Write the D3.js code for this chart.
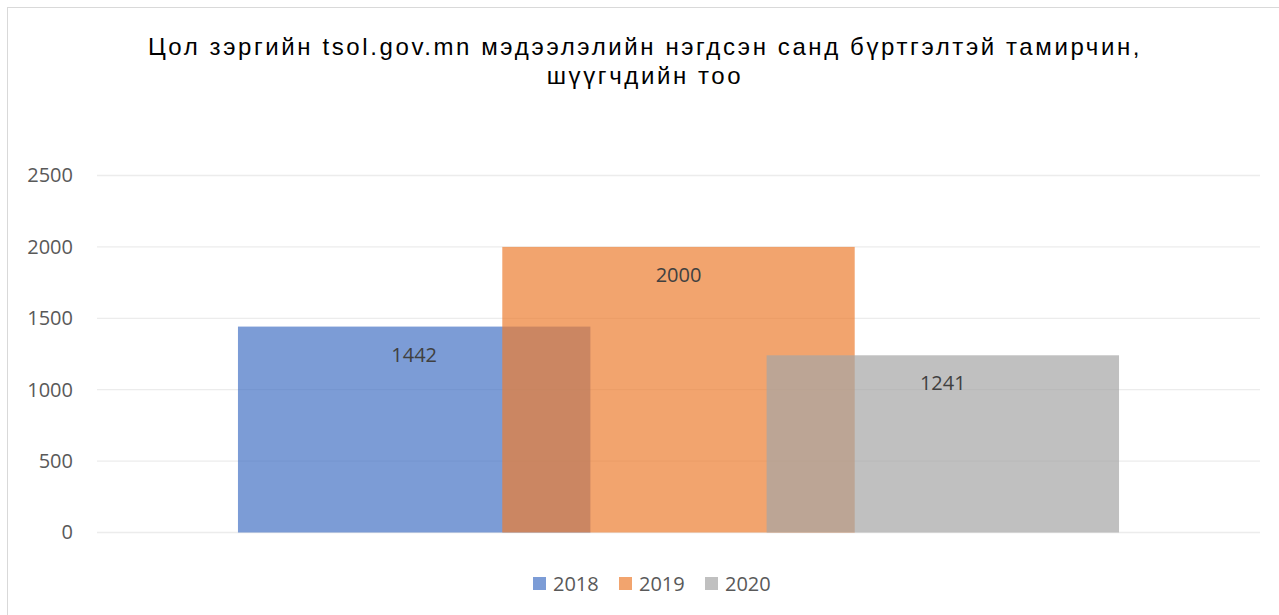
<!DOCTYPE html>
<html>
<head>
<meta charset="utf-8">
<script src="https://cdn.jsdelivr.net/npm/d3@7"></script>
<style>
  body { margin: 0; background: #fff; }
  svg { display: block; }
</style>
</head>
<body>
<svg id="chart" width="1279" height="615"></svg>
<script>
const titleLines = ["Цол зэргийн tsol.gov.mn мэдээлэлийн нэгдсэн санд бүртгэлтэй тамирчин,", "шүүгчдийн тоо"];
const years = ["2018", "2019", "2020"];
const counts = [1442, 2000, 1241];
const colors = ["#4472C4", "#ED7D31", "#A5A5A5"];
const yTicks = [0, 500, 1000, 1500, 2000, 2500];

const svg = d3.select("#chart");
const margin = { top: 175.5, left: 97, right: 19, bottom: 82.5 };
const width = 1279 - margin.left - margin.right;
const height = 615 - margin.top - margin.bottom;
const labelFont = "'Open Sans', 'Noto Sans', sans-serif";

// chart border
svg.append("rect")
  .attr("x", 7.5).attr("y", 7.5)
  .attr("width", 1290).attr("height", 620)
  .attr("fill", "none").attr("stroke", "#d9d9d9");

svg.append("text")
  .attr("text-anchor", "middle")
  .style("font-family", "'Liberation Sans', Arial, sans-serif")
  .style("font-size", "24px")
  .style("letter-spacing", "2.6px")
  .attr("fill", "#000")
  .selectAll("tspan")
  .data(titleLines)
  .join("tspan")
  .attr("x", 645)
  .attr("y", (d, i) => 55 + i * 29)
  .text(d => d);

const g = svg.append("g").attr("transform", `translate(${margin.left},${margin.top})`);

const y = d3.scaleLinear().domain([0, 2500]).range([height, 0]);

// one category, three overlapping series (overlap 25%, gap 80%)
const overlap = 0.25, gap = 0.8;
const bw = width / (years.length - (years.length - 1) * overlap + gap);
const x = d3.scaleLinear()
  .domain([0, years.length - 1])
  .range([gap / 2 * bw, gap / 2 * bw + (years.length - 1) * (1 - overlap) * bw]);

g.append("g")
  .selectAll("line")
  .data(yTicks)
  .join("line")
  .attr("x1", 0).attr("x2", width)
  .attr("y1", d => y(d)).attr("y2", d => y(d))
  .attr("stroke", "#ececec").attr("stroke-width", 1.3);

const yAxis = g.append("g")
  .call(d3.axisLeft(y).tickValues(yTicks).tickFormat(d3.format("d")).tickSize(0).tickPadding(24));
yAxis.select(".domain").remove();
yAxis.selectAll("text")
  .style("font-family", labelFont)
  .style("font-size", "20px")
  .attr("fill", "#595959");

g.append("g")
  .selectAll("rect")
  .data(counts)
  .join("rect")
  .attr("x", (d, i) => x(i))
  .attr("y", d => y(d))
  .attr("width", bw)
  .attr("height", d => height - y(d))
  .attr("fill", (d, i) => colors[i])
  .attr("fill-opacity", 0.7);

g.append("g")
  .selectAll("text")
  .data(counts)
  .join("text")
  .attr("x", (d, i) => x(i) + bw / 2)
  .attr("y", d => y(d) + 35)
  .attr("text-anchor", "middle")
  .style("font-family", labelFont)
  .style("font-size", "20px")
  .attr("fill", "#404040")
  .text(d => d);

// legend
const legend = svg.append("g").attr("transform", "translate(533,584)");
const item = legend.selectAll("g")
  .data(years)
  .join("g")
  .attr("transform", (d, i) => `translate(${i * 86},0)`);
item.append("rect")
  .attr("x", 0).attr("y", -7)
  .attr("width", 13).attr("height", 13)
  .attr("fill", (d, i) => colors[i])
  .attr("fill-opacity", 0.7);
item.append("text")
  .attr("x", 20).attr("y", 7)
  .style("font-family", labelFont)
  .style("font-size", "20px")
  .attr("fill", "#595959")
  .text(d => d);
</script>
</body>
</html>
